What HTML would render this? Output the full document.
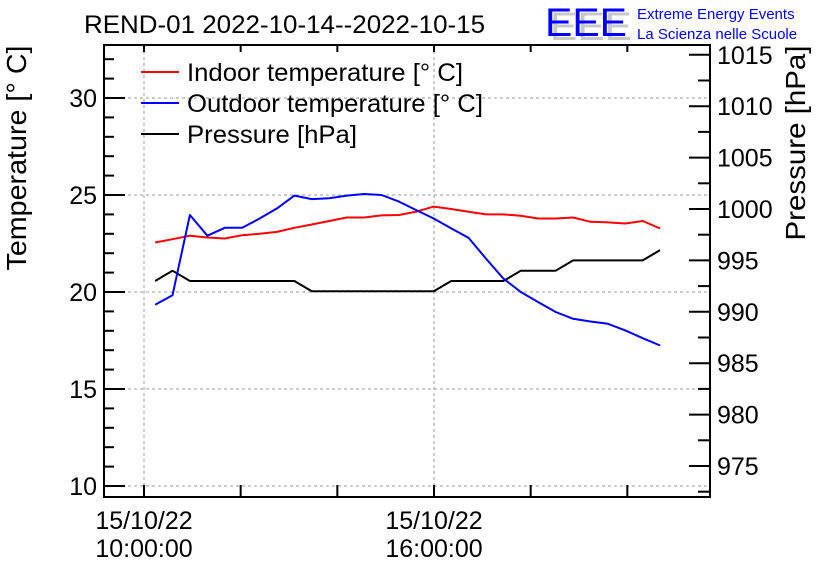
<!DOCTYPE html>
<html><head><meta charset="utf-8"><style>
html,body{margin:0;padding:0;background:#fff;}
svg{display:block;font-family:"Liberation Sans",sans-serif;}
</style></head><body>
<svg id="chart" width="836" height="572" viewBox="0 0 836 572" xmlns="http://www.w3.org/2000/svg">
<text x="84" y="33" font-size="25" textLength="401" lengthAdjust="spacingAndGlyphs">REND-01 2022-10-14--2022-10-15</text>
<g>
<text x="550" y="40" font-size="40" fill="#c8c8c8" textLength="82" lengthAdjust="spacingAndGlyphs">EEE</text>
<text x="545" y="36" font-size="40" fill="#0000ff" textLength="82" lengthAdjust="spacingAndGlyphs">EEE</text>
<text x="637" y="19" font-size="15" fill="#0000ff">Extreme Energy Events</text>
<text x="637" y="39" font-size="15" fill="#0000ff">La Scienza nelle Scuole</text>
</g>
<g id="grid"></g>
<g id="axes"></g>
<g id="series"></g>
<rect x="104" y="45" width="606" height="452" fill="none" stroke="#000" stroke-width="2"/>
<text transform="translate(26,158) rotate(-90)" text-anchor="middle" font-size="28" textLength="225" lengthAdjust="spacingAndGlyphs">Temperature [° C]</text>
<text transform="translate(805,143) rotate(-90)" text-anchor="middle" font-size="28" textLength="195" lengthAdjust="spacingAndGlyphs">Pressure [hPa]</text>
<g>
<line x1="141" y1="72" x2="179" y2="72" stroke="#ff0000" stroke-width="2"/>
<text x="187" y="81" font-size="25" textLength="276" lengthAdjust="spacingAndGlyphs">Indoor temperature [° C]</text>
<line x1="141" y1="103" x2="179" y2="103" stroke="#0000ff" stroke-width="2"/>
<text x="187" y="112" font-size="25" textLength="296" lengthAdjust="spacingAndGlyphs">Outdoor temperature [° C]</text>
<line x1="141" y1="134" x2="179" y2="134" stroke="#000" stroke-width="2"/>
<text x="187" y="143" font-size="25" textLength="170" lengthAdjust="spacingAndGlyphs">Pressure [hPa]</text>
</g>
</svg>
<script>
const startHour = 10.23;
const stepHours = 0.3603;
const indoor = [22.55,22.72,22.9,22.81,22.76,22.93,23.0,23.1,23.31,23.48,23.66,23.84,23.84,23.95,23.97,24.14,24.4,24.28,24.14,24.0,24.0,23.93,23.79,23.79,23.84,23.62,23.59,23.53,23.66,23.28];
const outdoor = [19.34,19.83,23.97,22.9,23.31,23.31,23.79,24.31,24.97,24.79,24.83,24.97,25.05,25.0,24.66,24.22,23.79,23.28,22.79,21.72,20.69,20.0,19.48,18.97,18.62,18.48,18.36,18.02,17.62,17.24];
const pressure = [993,994,993,993,993,993,993,993,993,992,992,992,992,992,992,992,992,993,993,993,993,994,994,994,995,995,995,995,995,996];
const tempTicks = [10,15,20,25,30];
const presTicks = [975,980,985,990,995,1000,1005,1010,1015];
const timeLabels = [[10,"15/10/22","10:00:00"],[16,"15/10/22","16:00:00"]];

const NS="http://www.w3.org/2000/svg";
const L=104,R=710,T=45,B=497;
const xS=h=>144+(h-10)*(290/6);
const yT=v=>486-(v-10)*19.4;
const yP=v=>466-(v-975)*10.28;
function mk(tag,attrs,parent){const e=document.createElementNS(NS,tag);for(const k in attrs)e.setAttribute(k,attrs[k]);parent.appendChild(e);return e;}
const grid=document.getElementById('grid'),axes=document.getElementById('axes'),ser=document.getElementById('series');
tempTicks.forEach(v=>{
 const g=mk('line',{x1:L,x2:R,y1:yT(v),y2:yT(v),stroke:'#999','stroke-dasharray':'3,3','stroke-width':1},grid);
 
 
 const t=mk('text',{x:97,y:yT(v)+9,'text-anchor':'end','font-size':25},axes);t.textContent=v;
 
 
});
for(let v=10;v<=32;v++){const len=v%5===0?21:10;mk('line',{x1:L,x2:L+len,y1:yT(v),y2:yT(v),stroke:'#000','stroke-width':2},axes);}
presTicks.forEach(v=>{
 const t=mk('text',{x:717,y:yP(v)+9,'font-size':25},axes);t.textContent=v;
 
 
});
for(let v=972.5;v<=1015;v+=2.5){const len=(v%5===0)?21:12;mk('line',{x1:R-len,x2:R,y1:yP(v),y2:yP(v),stroke:'#000','stroke-width':2},axes);}
for(let h=10;h<=21;h+=2){const x=xS(h);mk('line',{x1:x,x2:x,y1:B,y2:B-12,stroke:'#000','stroke-width':2},axes);mk('line',{x1:x,x2:x,y1:T,y2:T+7,stroke:'#000','stroke-width':2},axes);}
timeLabels.forEach(([h,a,b])=>{
 const x=xS(h);
 const g=mk('line',{x1:x,x2:x,y1:T,y2:B,stroke:'#999','stroke-dasharray':'3,3','stroke-width':1},grid);
 
 
 const t1=mk('text',{x:x,y:529,'text-anchor':'middle','font-size':25},axes);t1.textContent=a;
 
 
 const t2=mk('text',{x:x,y:557,'text-anchor':'middle','font-size':25},axes);t2.textContent=b;
 
 
});
function line(arr,yf,color,name){
 const pts=arr.map((v,i)=>xS(startHour+i*stepHours).toFixed(1)+','+yf(v).toFixed(1)).join(' ');
 const p=mk('polyline',{points:pts,fill:'none',stroke:color,'stroke-width':2,'stroke-linejoin':'round'},ser);
 
 
}
line(pressure,yP,'#000','pressure-line');
line(indoor,yT,'#ff0000','indoor-temperature-line');
line(outdoor,yT,'#0000ff','outdoor-temperature-line');
</script>
</body></html>
